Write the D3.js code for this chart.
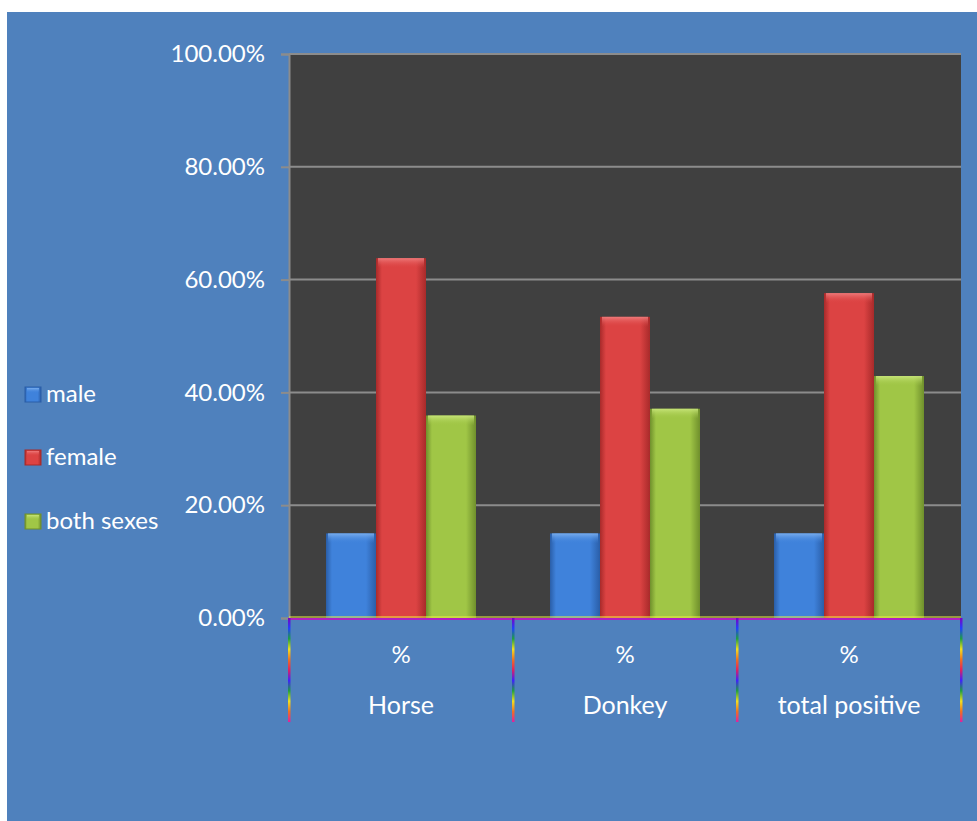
<!DOCTYPE html>
<html>
<head>
<meta charset="utf-8">
<script src="https://cdn.jsdelivr.net/npm/d3@7"></script>
<style>
  body { margin: 0; background: #fff; }
  text { font-family: Lato, "Open Sans", sans-serif; fill: #fff; }
</style>
</head>
<body>
<div id="chart"></div>
<script>
// chart data
const categories = ['Horse', 'Donkey', 'total positive'];
const seriesNames = ['male', 'female', 'both sexes'];
const maleValues = [0.15, 0.15, 0.15];
const femaleValues = [0.638, 0.534, 0.576];
const bothValues = [0.359, 0.371, 0.429];
const yTicks = [0, 0.2, 0.4, 0.6, 0.8, 1.0];

const seriesColors = {
    'male': { mid: '#3f82db', edge: '#2a5ea8', top: '#7fb2f0' },
    'female': { mid: '#dc4343', edge: '#a82a2a', top: '#f08080' },
    'both sexes': { mid: '#a0c646', edge: '#6f8f2c', top: '#cbe77e' }
};

const width = 977, height = 821;
const margin = { top: 54, left: 289, right: 16, bottom: 203 };
const plotRight = width - margin.right;
const plotBottom = height - margin.bottom;

const svg = d3.select('#chart')
    .append('svg')
    .attr('width', width)
    .attr('height', height);

const defs = svg.append('defs');

// bar gradients (a soft 3D look)
seriesNames.forEach((s, i) => {
    const c = seriesColors[s];
    const g = defs.append('linearGradient')
        .attr('id', 'bar' + i)
        .attr('x1', '0%').attr('x2', '100%').attr('y1', '0%').attr('y2', '0%');
    g.append('stop').attr('offset', '0%').attr('stop-color', c.edge);
    g.append('stop').attr('offset', '12%').attr('stop-color', c.mid);
    g.append('stop').attr('offset', '80%').attr('stop-color', c.mid);
    g.append('stop').attr('offset', '100%').attr('stop-color', c.edge);

    const t = defs.append('linearGradient')
        .attr('id', 'top' + i)
        .attr('x1', '0%').attr('x2', '0%').attr('y1', '0%').attr('y2', '100%');
    t.append('stop').attr('offset', '0%').attr('stop-color', c.top).attr('stop-opacity', 0.9);
    t.append('stop').attr('offset', '100%').attr('stop-color', c.mid).attr('stop-opacity', 0);
});

// rainbow separators
const rainbow = defs.append('linearGradient')
    .attr('id', 'rainbow')
    .attr('gradientUnits', 'userSpaceOnUse')
    .attr('x1', 0).attr('x2', 0).attr('y1', plotBottom).attr('y2', plotBottom + 104);
['#8000c0', '#2040ff', '#20a040', '#f0e020', '#f07020', '#e02060', '#4020ff', '#20a040', '#f0e020', '#f07020', '#e020a0']
    .forEach((col, i, arr) => {
        rainbow.append('stop').attr('offset', (i / (arr.length - 1) * 100) + '%').attr('stop-color', col);
    });

// blue background
svg.append('rect')
    .attr('x', 7).attr('y', 12)
    .attr('width', width - 7).attr('height', height - 12)
    .attr('fill', '#4f81bd');

// plot area
svg.append('rect')
    .attr('x', margin.left).attr('y', margin.top)
    .attr('width', plotRight - margin.left).attr('height', plotBottom - margin.top)
    .attr('fill', '#404040');

// Scales
const x0 = d3.scaleBand()
    .domain(categories)
    .range([margin.left, plotRight])
    .padding(0);

const x1 = d3.scaleBand()
    .domain(seriesNames)
    .range([0, x0.bandwidth()])
    .paddingInner(0)
    .paddingOuter(0.74);

const y = d3.scaleLinear()
    .domain([0, 1])
    .range([plotBottom, margin.top]);

// gridlines
svg.append('g')
    .selectAll('line')
    .data(yTicks.filter(d => d > 0))
    .enter()
    .append('line')
    .attr('x1', margin.left).attr('x2', plotRight)
    .attr('y1', d => y(d)).attr('y2', d => y(d))
    .attr('stroke', '#8c8c8c')
    .attr('stroke-width', 2);

// y axis
const yAxis = svg.append('g')
    .attr('transform', `translate(${margin.left},0)`)
    .call(d3.axisLeft(y)
        .tickValues(yTicks)
        .tickFormat(d3.format('.2%'))
        .tickSize(8)
        .tickPadding(16));
yAxis.select('.domain').attr('stroke', '#8c8c8c').attr('stroke-width', 2);
yAxis.selectAll('.tick line').attr('stroke', '#8c8c8c').attr('stroke-width', 2);
yAxis.selectAll('.tick text')
    .attr('fill', '#fff')
    .style('font-size', '24px')
    .style('font-family', 'Lato, sans-serif');

// bars
const tableRows = categories.map((c, i) => ({
    category: c,
    values: [maleValues[i], femaleValues[i], bothValues[i]]
}));

const groups = svg.append('g')
    .selectAll('g')
    .data(tableRows)
    .enter()
    .append('g')
    .attr('transform', d => `translate(${x0(d.category)},0)`);

const bars = groups.selectAll('g')
    .data(d => d.values.map((v, i) => ({ series: seriesNames[i], idx: i, value: v })))
    .enter()
    .append('g');

bars.append('rect')
    .attr('x', d => x1(d.series))
    .attr('y', d => y(d.value))
    .attr('width', x1.bandwidth())
    .attr('height', d => y(0) - y(d.value))
    .attr('fill', d => `url(#bar${d.idx})`);

bars.append('rect')
    .attr('x', d => x1(d.series) + 2)
    .attr('y', d => y(d.value))
    .attr('width', x1.bandwidth() - 4)
    .attr('height', 10)
    .attr('fill', d => `url(#top${d.idx})`);

// bottom axis lines
svg.append('line')
    .attr('x1', margin.left).attr('x2', plotRight)
    .attr('y1', plotBottom - 1).attr('y2', plotBottom - 1)
    .attr('stroke', '#f0f040').attr('stroke-width', 1.2);
svg.append('line')
    .attr('x1', margin.left).attr('x2', plotRight)
    .attr('y1', plotBottom + 1).attr('y2', plotBottom + 1)
    .attr('stroke', '#b020c0').attr('stroke-width', 2);

// category separators
const sepX = categories.map(c => x0(c)).concat([plotRight]);
svg.append('g')
    .selectAll('rect')
    .data(sepX)
    .enter()
    .append('rect')
    .attr('x', d => d - 1)
    .attr('y', plotBottom)
    .attr('width', 2.5)
    .attr('height', 104)
    .attr('fill', 'url(#rainbow)');

// category labels
const catLabels = svg.append('g')
    .selectAll('g')
    .data(categories)
    .enter()
    .append('g')
    .attr('transform', d => `translate(${x0(d) + x0.bandwidth() / 2},0)`);

catLabels.append('text')
    .attr('y', 655)
    .attr('dy', '0.35em')
    .attr('text-anchor', 'middle')
    .style('font-size', '24px')
    .text('%');

catLabels.append('text')
    .attr('y', 705)
    .attr('dy', '0.35em')
    .attr('text-anchor', 'middle')
    .style('font-size', '25px')
    .text(d => d);

// legend
const legendY = [394, 457, 521];
const legend = svg.append('g')
    .selectAll('g')
    .data(seriesNames)
    .enter()
    .append('g')
    .attr('transform', (d, i) => `translate(25,${legendY[i]})`);

legend.append('rect')
    .attr('x', 0).attr('y', -7)
    .attr('width', 16).attr('height', 15)
    .attr('fill', (d, i) => `url(#bar${i})`)
    .attr('stroke', d => seriesColors[d].edge)
    .attr('stroke-width', 1);

legend.append('rect')
    .attr('x', 2).attr('y', -6)
    .attr('width', 12).attr('height', 5)
    .attr('fill', (d, i) => `url(#top${i})`);

legend.append('text')
    .attr('x', 21)
    .attr('dy', '0.35em')
    .style('font-size', '24px')
    .text(d => d);
</script>
</body>
</html>
